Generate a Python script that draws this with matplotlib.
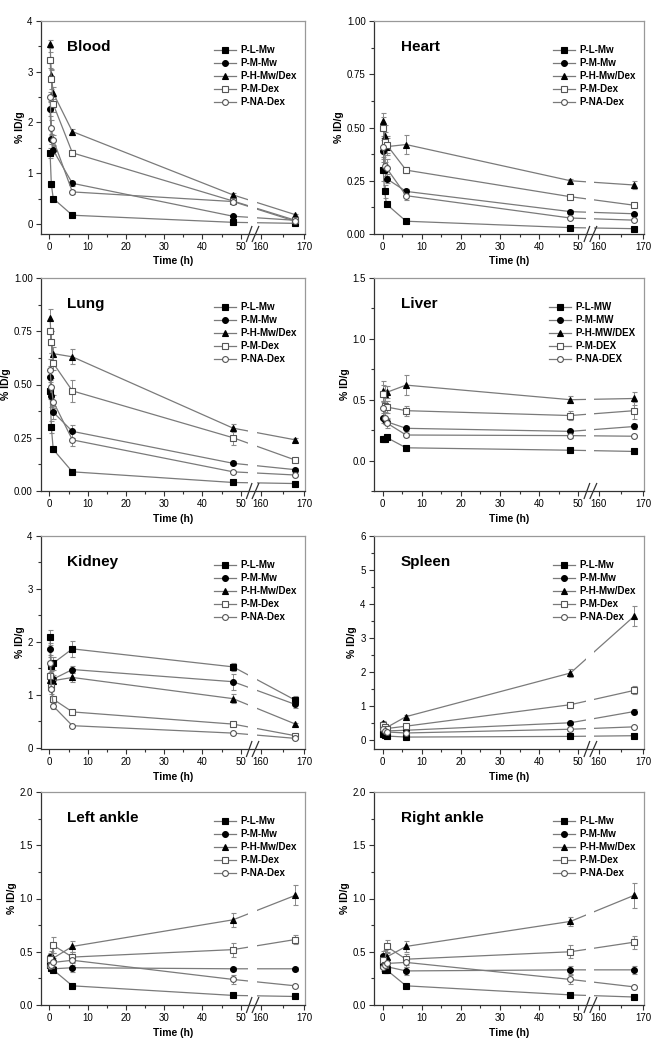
import numpy as np
import matplotlib
matplotlib.use("Agg")
import matplotlib.pyplot as plt
from matplotlib.ticker import MultipleLocator, FixedLocator, FormatStrFormatter

plt.rcParams['font.family'] = ['Liberation Sans', 'DejaVu Sans']

# sampling times (h)
times = [0.17, 0.5, 1, 6, 48, 168]

series_names = ['P-L-Mw', 'P-M-Mw', 'P-H-Mw/Dex', 'P-M-Dex', 'P-NA-Dex']
series_names_upper = ['P-L-MW', 'P-M-MW', 'P-H-MW/DEX', 'P-M-DEX', 'P-NA-DEX']

# %ID/g per organ, rows = series in the order above
blood_vals = [[1.40, 0.78, 0.50, 0.17, 0.03, 0.01],
              [2.27, 1.67, 1.45, 0.80, 0.15, 0.07],
              [3.55, 2.93, 2.58, 1.82, 0.57, 0.18],
              [3.23, 2.85, 2.36, 1.40, 0.45, 0.07],
              [2.50, 1.90, 1.66, 0.63, 0.44, 0.05]]
blood_err = [[0.10, 0.05, 0.03, 0.02, 0.01, 0.01],
             [0.15, 0.10, 0.08, 0.05, 0.02, 0.01],
             [0.08, 0.10, 0.12, 0.06, 0.04, 0.02],
             [0.15, 0.20, 0.15, 0.06, 0.05, 0.01],
             [0.10, 0.15, 0.10, 0.04, 0.04, 0.01]]

heart_vals = [[0.30, 0.20, 0.14, 0.06, 0.03, 0.025],
              [0.39, 0.30, 0.26, 0.20, 0.105, 0.095],
              [0.53, 0.46, 0.41, 0.42, 0.25, 0.23],
              [0.50, 0.43, 0.42, 0.30, 0.175, 0.135],
              [0.41, 0.32, 0.31, 0.18, 0.075, 0.065]]
heart_err = [[0.05, 0.03, 0.01, 0.005, 0.005, 0.003],
             [0.05, 0.04, 0.02, 0.01, 0.01, 0.005],
             [0.04, 0.05, 0.04, 0.045, 0.01, 0.02],
             [0.05, 0.05, 0.04, 0.015, 0.01, 0.01],
             [0.05, 0.05, 0.04, 0.02, 0.005, 0.005]]

lung_vals = [[0.47, 0.30, 0.195, 0.09, 0.04, 0.035],
             [0.535, 0.445, 0.37, 0.28, 0.13, 0.10],
             [0.81, 0.70, 0.645, 0.63, 0.295, 0.24],
             [0.75, 0.70, 0.60, 0.47, 0.25, 0.145],
             [0.57, 0.49, 0.42, 0.24, 0.09, 0.075]]
lung_err = [[0.04, 0.03, 0.01, 0.005, 0.005, 0.003],
            [0.05, 0.05, 0.03, 0.03, 0.01, 0.01],
            [0.045, 0.05, 0.03, 0.035, 0.02, 0.01],
            [0.05, 0.05, 0.03, 0.05, 0.035, 0.01],
            [0.05, 0.04, 0.03, 0.03, 0.005, 0.005]]

liver_vals = [[0.18, 0.18, 0.19, 0.105, 0.085, 0.075],
              [0.35, 0.33, 0.32, 0.265, 0.24, 0.28],
              [0.57, 0.55, 0.56, 0.62, 0.50, 0.51],
              [0.55, 0.45, 0.44, 0.41, 0.37, 0.41],
              [0.43, 0.35, 0.31, 0.21, 0.205, 0.20]]
liver_err = [[0.01, 0.01, 0.01, 0.01, 0.005, 0.005],
             [0.04, 0.03, 0.02, 0.02, 0.01, 0.02],
             [0.08, 0.06, 0.05, 0.08, 0.03, 0.05],
             [0.07, 0.06, 0.05, 0.04, 0.04, 0.07],
             [0.06, 0.05, 0.04, 0.02, 0.02, 0.01]]

kidney_vals = [[2.09, 1.55, 1.60, 1.87, 1.53, 0.90],
               [1.87, 1.30, 1.30, 1.48, 1.25, 0.82],
               [1.28, 1.25, 1.27, 1.33, 0.93, 0.45],
               [1.35, 1.15, 0.92, 0.68, 0.45, 0.23],
               [1.61, 1.12, 0.79, 0.42, 0.28, 0.18]]
kidney_err = [[0.14, 0.10, 0.12, 0.15, 0.07, 0.08],
              [0.12, 0.10, 0.08, 0.06, 0.15, 0.06],
              [0.06, 0.06, 0.06, 0.08, 0.08, 0.03],
              [0.08, 0.08, 0.06, 0.03, 0.04, 0.02],
              [0.10, 0.10, 0.05, 0.02, 0.02, 0.02]]

spleen_vals = [[0.20, 0.15, 0.13, 0.10, 0.12, 0.14],
               [0.40, 0.30, 0.28, 0.30, 0.52, 0.85],
               [0.50, 0.42, 0.38, 0.70, 1.98, 3.65],
               [0.45, 0.40, 0.35, 0.42, 1.05, 1.47],
               [0.35, 0.28, 0.25, 0.22, 0.33, 0.40]]
spleen_err = [[0.02, 0.02, 0.02, 0.01, 0.01, 0.01],
              [0.05, 0.04, 0.03, 0.03, 0.05, 0.06],
              [0.06, 0.05, 0.05, 0.04, 0.13, 0.30],
              [0.05, 0.04, 0.04, 0.04, 0.07, 0.12],
              [0.05, 0.04, 0.03, 0.02, 0.02, 0.03]]

lankle_vals = [[0.38, 0.35, 0.33, 0.18, 0.09, 0.08],
               [0.45, 0.36, 0.34, 0.35, 0.34, 0.34],
               [0.40, 0.45, 0.44, 0.55, 0.80, 1.03],
               [0.43, 0.38, 0.56, 0.45, 0.52, 0.615],
               [0.37, 0.38, 0.40, 0.42, 0.24, 0.18]]
lankle_err = [[0.03, 0.03, 0.02, 0.01, 0.01, 0.01],
              [0.04, 0.04, 0.03, 0.04, 0.02, 0.02],
              [0.05, 0.06, 0.05, 0.05, 0.065, 0.095],
              [0.05, 0.05, 0.075, 0.05, 0.065, 0.04],
              [0.04, 0.04, 0.04, 0.04, 0.04, 0.01]]

rankle_vals = [[0.38, 0.33, 0.33, 0.18, 0.095, 0.075],
               [0.46, 0.38, 0.36, 0.32, 0.33, 0.33],
               [0.40, 0.46, 0.45, 0.55, 0.785, 1.03],
               [0.42, 0.38, 0.55, 0.43, 0.50, 0.59],
               [0.36, 0.38, 0.39, 0.40, 0.24, 0.17]]
rankle_err = [[0.03, 0.03, 0.02, 0.01, 0.01, 0.01],
              [0.05, 0.04, 0.03, 0.04, 0.04, 0.04],
              [0.05, 0.06, 0.05, 0.05, 0.04, 0.12],
              [0.05, 0.05, 0.06, 0.05, 0.06, 0.06],
              [0.04, 0.04, 0.04, 0.04, 0.04, 0.01]]

# broken time axis: 0-53 h, then 158-170 h
B1, B2, K = 52.9, 158.0, 1.13
EPS = 1e-3


def fwd(x):
    x = np.asarray(x, dtype=float)
    mid = B1 + (x - B1) * EPS
    hi = B1 + (B2 - B1) * EPS + (x - B2) * K
    return np.where(x <= B1, x, np.where(x < B2, mid, hi))


def inv(y):
    y = np.asarray(y, dtype=float)
    y2 = B1 + (B2 - B1) * EPS
    mid = B1 + (y - B1) / EPS
    hi = B2 + (y - y2) / K
    return np.where(y <= B1, y, np.where(y < y2, mid, hi))


markers = ['s', 'o', '^', 's', 'o']
filled = [True, True, True, False, False]
line_c = '#7a7a7a'

panels = [
    ('Blood', blood_vals, blood_err, (-0.2, 4), 1, 0.5, '%d', series_names),
    ('Heart', heart_vals, heart_err, (0, 1), 0.25, 0.125, '%.2f', series_names),
    ('Lung', lung_vals, lung_err, (0, 1), 0.25, 0.125, '%.2f', series_names),
    ('Liver', liver_vals, liver_err, (-0.25, 1.5), 0.5, 0.25, '%.1f', series_names_upper),
    ('Kidney', kidney_vals, kidney_err, (-0.02, 4), 1, 0.5, '%d', series_names),
    ('Spleen', spleen_vals, spleen_err, (-0.25, 6), 1, 0.5, '%d', series_names),
    ('Left ankle', lankle_vals, lankle_err, (0, 2), 0.5, 0.25, '%.1f', series_names),
    ('Right ankle', rankle_vals, rankle_err, (0, 2), 0.5, 0.25, '%.1f', series_names),
]

W, H = 666, 1050
fig = plt.figure(figsize=(W / 100, H / 100), dpi=100)

col_x = [(41, 264), (374, 270)]
row_top = [21, 278, 536, 792]
ax_h = 213

for i, (title, vals, errs, ylim, major, minor, fmt, names) in enumerate(panels):
    r, c = divmod(i, 2)
    x0, w = col_x[c]
    ax = fig.add_axes([x0 / W, 1 - (row_top[r] + ax_h) / H, w / W, ax_h / H])
    ax.set_xscale('function', functions=(fwd, inv))

    handles = []
    for k in range(5):
        mfc = 'black' if filled[k] else 'white'
        mec = 'black' if filled[k] else '#555555'
        cont = ax.errorbar(times, vals[k], yerr=errs[k], color=line_c, lw=0.9,
                           marker=markers[k], ms=4.2, mfc=mfc, mec=mec, mew=0.8,
                           ecolor='#8a8a8a', elinewidth=0.7, capsize=1.8,
                           capthick=0.7, zorder=2)
        handles.append(cont.lines[0])

    ax.set_xlim(-2.2, 170.2)
    ax.set_ylim(*ylim)
    # white gap across the axis break
    ax.axvspan(51.9, 159.0, color='white', lw=0, zorder=2.2)

    ax.xaxis.set_major_locator(FixedLocator([0, 10, 20, 30, 40, 50, 160, 170]))
    ax.xaxis.set_minor_locator(FixedLocator([5, 15, 25, 35, 45, 165]))
    ax.yaxis.set_major_locator(MultipleLocator(major))
    ax.yaxis.set_minor_locator(MultipleLocator(minor))
    ax.yaxis.set_major_formatter(FormatStrFormatter(fmt))
    ax.tick_params(which='both', direction='out', top=False, right=False,
                   labelsize=7, color='#333333', width=0.8, pad=2.5)
    ax.tick_params(which='major', length=3.5)
    ax.tick_params(which='minor', length=2)
    for s in ['left', 'bottom']:
        ax.spines[s].set_color('#333333')
        ax.spines[s].set_linewidth(0.9)
    for s in ['top', 'right']:
        ax.spines[s].set_color('#999999')
        ax.spines[s].set_linewidth(0.9)

    # break marks on bottom spine
    trans = ax.get_xaxis_transform()
    for xb in (52.3, 158.7):
        ax.plot([xb - 0.8, xb + 0.8], [-0.035, 0.035], color='#333333', lw=0.9,
                transform=trans, clip_on=False, zorder=5)

    ax.set_xlabel('Time (h)', fontsize=7.5, fontweight='bold', labelpad=3)
    ax.set_ylabel('% ID/g', fontsize=7.5, fontweight='bold', labelpad=2)
    ax.text(0.1, 0.88, title, transform=ax.transAxes, fontsize=11,
            fontweight='bold', va='center', ha='left')
    ax.legend(handles, names, loc='upper right', bbox_to_anchor=(0.99, 0.915),
              frameon=False, prop={'weight': 'bold', 'size': 7},
              handlelength=2.3, labelspacing=0.32, handletextpad=0.4,
              borderaxespad=0.2)

fig.savefig('out.png', dpi=100, facecolor='white')
